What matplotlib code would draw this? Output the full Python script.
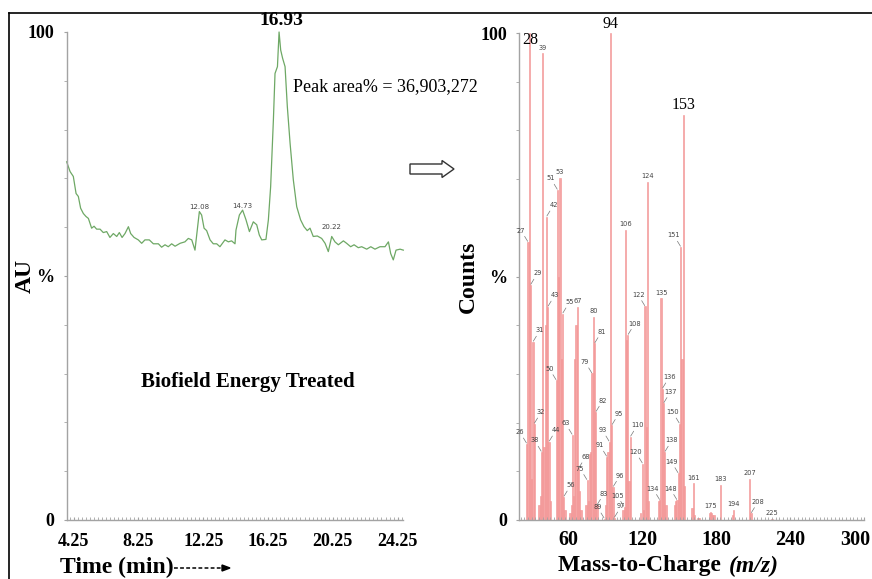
import matplotlib
matplotlib.use('Agg')
import matplotlib.pyplot as plt
import numpy as np
from matplotlib.ticker import MultipleLocator
from matplotlib.patches import FancyArrow
from matplotlib.lines import Line2D
from matplotlib.transforms import ScaledTranslation

# ---------------- data: chromatogram ----------------
ret_time = [3.82, 4.03, 4.23, 4.40, 4.54, 4.68, 4.85, 5.01, 5.16, 5.36, 5.51, 5.67, 5.88,
            6.08, 6.29, 6.49, 6.70, 6.91, 7.07, 7.24, 7.42, 7.63, 7.77, 7.98, 8.24, 8.45,
            8.65, 8.92, 9.17, 9.48, 9.68, 9.89, 10.09, 10.30, 10.51, 10.82, 11.12, 11.33,
            11.54, 11.74, 12.01, 12.15, 12.30, 12.46, 12.67, 12.87, 13.08, 13.28, 13.59,
            13.80, 14.00, 14.21, 14.27, 14.48, 14.68, 14.89, 15.10, 15.34, 15.55, 15.71,
            15.86, 16.12, 16.27, 16.41, 16.58, 16.68, 16.83, 16.93, 17.03, 17.15, 17.30,
            17.44, 17.61, 17.81, 18.02, 18.26, 18.47, 18.67, 18.84, 19.04, 19.29, 19.56,
            19.77, 19.97, 20.18, 20.38, 20.59, 20.90, 21.10, 21.35, 21.56, 21.82, 22.03,
            22.34, 22.59, 22.85, 23.16, 23.47, 23.68, 23.82, 23.98, 24.15, 24.40, 24.60]
au_pct = [73.4, 71.4, 70.4, 66.9, 66.3, 63.9, 62.8, 62.2, 61.8, 59.8, 60.2, 59.6, 59.6,
          58.9, 59.1, 57.9, 58.7, 58.1, 58.9, 57.9, 58.7, 60.1, 58.7, 57.9, 57.4, 56.7,
          57.4, 57.4, 56.6, 56.6, 55.9, 56.4, 56.0, 56.6, 56.1, 56.7, 57.0, 57.7,
          57.4, 55.3, 63.2, 62.5, 59.8, 59.3, 57.4, 56.6, 56.6, 56.0, 57.4,
          57.0, 57.2, 56.6, 59.4, 62.5, 63.5, 61.5, 59.1, 61.1, 60.5, 58.4,
          57.4, 57.5, 61.5, 68.3, 82.0, 91.5, 92.9, 100.0, 96.3, 94.6, 92.9,
          84.7, 77.2, 69.7, 64.2, 61.5, 60.1, 59.3, 59.8, 58.1, 58.2, 57.7,
          56.7, 55.0, 58.1, 57.0, 56.4, 57.2, 56.7, 56.0, 56.4, 55.8, 56.0,
          55.5, 56.0, 55.5, 56.0, 56.0, 57.0, 54.6, 53.3, 55.3, 55.5, 55.3]
minor_peak_labels = ['12.08', '14.73', '20.22']
main_peak_label = '16.93'
peak_area_text = 'Peak area% = 36,903,272'
x_ticks_time = [4.25, 8.25, 12.25, 16.25, 20.25, 24.25]

# ---------------- data: mass spectrum ----------------
mz = [26, 27, 28, 29, 30, 31, 32, 36, 37, 38, 39, 40, 41, 42, 43, 44, 45,
      50, 51, 52, 53, 54, 55, 56, 57, 61, 62, 63, 64, 65, 66, 67, 68, 69, 70,
      74, 75, 76, 77, 78, 79, 80, 81, 82, 83, 89, 90, 91, 92, 93, 94, 95, 96, 97,
      104, 105, 106, 107, 108, 109, 110, 118, 120, 121, 122, 123, 124, 125,
      133, 134, 135, 136, 137, 138, 139, 146, 147, 148, 149, 150, 151, 152, 153, 154,
      160, 161, 162, 165, 166, 174, 175, 176, 177, 178, 183, 193, 194, 207, 208, 225]
counts = [15.7, 57.1, 100, 48.3, 8.5, 36.6, 19.8, 3, 5, 14, 95.8, 15, 40, 62.3, 43.8, 16.1, 4,
          28.7, 67.8, 50, 70.2, 33, 42.4, 4.8, 2, 1.5, 3, 17.5, 5, 33, 40, 43.8, 10.6, 6, 2,
          3, 8.2, 4, 13.5, 14, 30.1, 41.7, 36.3, 22.2, 3.1, 0.3, 3, 13, 14, 16.1, 100, 19.5, 6.8, 0.5,
          2, 2.7, 59.5, 37, 38, 8, 17.1, 1.5, 11.6, 2, 43.9, 19, 69.5, 4,
          4, 4.1, 45.5, 27, 24, 14, 3, 3, 4, 4.1, 9.6, 19.8, 56.1, 33, 83.2, 7,
          2.5, 7.5, 1, 0.5, 0.5, 1.5, 1.7, 1.5, 1, 1, 7.2, 1, 2.1, 8.4, 1.4, 0.3]
big_labels = [28, 94, 153]
small_labels = [26, 27, 29, 31, 32, 38, 39, 42, 43, 44, 50, 51, 53, 55, 56, 63, 67, 68,
                75, 79, 80, 81, 82, 83, 89, 91, 93, 95, 96, 97, 105, 106, 108, 110, 120,
                122, 124, 134, 135, 136, 137, 138, 148, 149, 150, 151, 161, 175, 183, 194,
                207, 208, 225]
x_ticks_mz = [60, 120, 180, 240, 300]

# label side (style only)
left_side = {26, 27, 38, 50, 51, 63, 75, 79, 89, 91, 93, 105, 120, 122, 134, 148, 149, 150, 151}
right_side = {29, 31, 32, 42, 43, 44, 55, 56, 68, 81, 82, 83, 95, 96, 97, 108, 110, 136, 137, 138, 208}

serif = 'Liberation Serif'
W, H = 872, 579
fig = plt.figure(figsize=(W / 100, H / 100), dpi=100)

axis_col = '#a3a3a3'

# ---------------- left panel ----------------
ax1 = fig.add_axes([67 / W, 59 / H, 336 / W, 488 / H])
t = np.array(ret_time)
a = np.array(au_pct)
ax1.plot(t, a, color='#6ea865', lw=0.9, clip_on=False)
ax1.set_xlim(3.84, 24.58)
ax1.set_ylim(0, 100)
for s in ['top', 'right']:
    ax1.spines[s].set_visible(False)
for s in ['left', 'bottom']:
    ax1.spines[s].set_color(axis_col)
    ax1.spines[s].set_linewidth(1.0)
ax1.set_yticks([0, 50, 100])
ax1.set_yticklabels(['0', '%', '100'])
ax1.yaxis.set_minor_locator(MultipleLocator(10))
ax1.set_xticks(x_ticks_time)
ax1.set_xticklabels([f'{v:.2f}' for v in x_ticks_time])
ax1.xaxis.set_minor_locator(MultipleLocator(0.25))
ax1.tick_params(axis='y', which='both', length=2.5, color=axis_col, pad=7)
ax1.tick_params(axis='x', which='both', direction='in', length=2, color=axis_col, pad=9)
for lab in ax1.get_xticklabels() + ax1.get_yticklabels():
    lab.set_fontfamily(serif)
    lab.set_fontweight('bold')
    lab.set_fontsize(13)

ax1.text(-0.125, 0.5, 'AU', transform=ax1.transAxes, rotation=90, ha='center', va='center',
         fontfamily=serif, fontweight='bold', fontsize=17)

# main peak label
imax = int(np.argmax(a))
ax1.annotate(main_peak_label, xy=(t[imax], a[imax]), xytext=(2, 2), textcoords='offset points',
             ha='center', va='bottom', fontfamily=serif, fontweight='bold', fontsize=14,
             annotation_clip=False)
ax1.text(17.79, 88.9, peak_area_text, ha='left', va='center', fontfamily=serif, fontsize=13)
for lab in minor_peak_labels:
    tv = float(lab)
    mask = np.abs(t - tv) < 0.35
    idx = np.where(mask)[0]
    j = idx[np.argmax(a[idx])]
    dy = 5 if lab == '20.22' else 1
    ax1.annotate(lab, xy=(t[j], a[j]), xytext=(0, dy), textcoords='offset points',
                 ha='center', va='bottom', fontsize=5, color='#444444', fontfamily='DejaVu Sans')
ax1.text(15.0, 28.3, 'Biofield Energy Treated', ha='center', va='center',
         fontfamily=serif, fontweight='bold', fontsize=15)

# x label with dashed arrow
fig.text(60 / W, 1 - 567 / H, 'Time (min)', ha='left', va='center', fontfamily=serif,
         fontweight='bold', fontsize=17)
fig.add_artist(Line2D([174 / W, 224 / W], [1 - 568 / H, 1 - 568 / H], color='black', lw=1.1,
                      linestyle=(0, (2.5, 1.5))))
fig.add_artist(FancyArrow(222 / W, 1 - 568 / H, 8 / W, 0, width=0.0001, head_width=6 / H,
                          head_length=8 / W, length_includes_head=True, color='black',
                          transform=fig.transFigure))

# ---------------- right panel ----------------
ax2 = fig.add_axes([519.4 / W, 59 / H, 345 / W, 487 / H])
ax2.bar(mz, counts, width=1.0, color='#f5a5a5', edgecolor='#f29292', linewidth=0.4,
        align='center', clip_on=False)
ax2.set_xlim(20, 300)
ax2.set_ylim(0, 100)
for s in ['top', 'right']:
    ax2.spines[s].set_visible(False)
for s in ['left', 'bottom']:
    ax2.spines[s].set_color(axis_col)
    ax2.spines[s].set_linewidth(1.0)
ax2.set_yticks([0, 50, 100])
ax2.set_yticklabels(['0', '%', '100'])
ax2.yaxis.set_minor_locator(MultipleLocator(10))
ax2.set_xticks(x_ticks_mz)
ax2.set_xticklabels([str(v) for v in x_ticks_mz])
ax2.xaxis.set_minor_locator(MultipleLocator(3))
ax2.tick_params(axis='y', which='both', length=2.5, color=axis_col, pad=6)
ax2.tick_params(axis='x', which='both', direction='in', length=2, color=axis_col, pad=7)
for lab in ax2.get_yticklabels():
    lab.set_fontfamily(serif)
    lab.set_fontweight('bold')
    lab.set_fontsize(13)
xt_labels = ax2.get_xticklabels()
for lab in xt_labels:
    lab.set_fontfamily(serif)
    lab.set_fontweight('bold')
    lab.set_fontsize(14.5)
# keep the last label inside the picture edge
xt_labels[-1].set_transform(xt_labels[-1].get_transform() +
                            ScaledTranslation(-9 / 100, 0, fig.dpi_scale_trans))

ax2.text(-0.148, 0.5, 'Counts', transform=ax2.transAxes, rotation=90, ha='center', va='center',
         fontfamily=serif, fontweight='bold', fontsize=17)

# x label: "Mass-to-Charge " bold + "(m/z)" bold italic
xl1 = fig.text(0, 1 - 566 / H, 'Mass-to-Charge ', ha='left', va='center', fontfamily=serif,
               fontweight='bold', fontsize=17)
xl2 = fig.text(0, 1 - 566 / H, '(m/z)', ha='left', va='center', fontfamily=serif,
               fontweight='bold', fontstyle='italic', fontsize=17)
fig.canvas.draw()
r = fig.canvas.get_renderer()
w1 = xl1.get_window_extent(r).width
w2 = xl2.get_window_extent(r).width
start = 667 - (w1 + w2) / 2
xl1.set_x(start / W)
xl2.set_x((start + w1 + 2) / W)

height = dict(zip(mz, counts))
for m in big_labels:
    h = height[m]
    if m == 28:
        ax2.annotate(str(m), xy=(m, h), xytext=(1, -5), textcoords='offset points',
                     ha='center', va='center', fontfamily=serif, fontsize=11.5)
    else:
        ax2.annotate(str(m), xy=(m, h), xytext=(0, 1), textcoords='offset points',
                     ha='center', va='bottom', fontfamily=serif, fontsize=11.5,
                     annotation_clip=False)
for m in small_labels:
    h = height[m]
    if m in left_side:
        off, lp = (-5, 6), dict(arrowstyle='-', lw=0.5, color='#777777', shrinkA=0, shrinkB=0.5)
    elif m in right_side:
        off, lp = (5, 6), dict(arrowstyle='-', lw=0.5, color='#777777', shrinkA=0, shrinkB=0.5)
    else:
        off, lp = (0, 2), None
    ax2.annotate(str(m), xy=(m, h), xytext=off, textcoords='offset points', ha='center',
                 va='bottom', fontsize=4.8, color='#444444', fontfamily='DejaVu Sans',
                 arrowprops=lp)

# ---------------- frame and arrow ----------------
fig.add_artist(Line2D([9 / W, 1], [1 - 13 / H, 1 - 13 / H], color='black', lw=1.2))
fig.add_artist(Line2D([9 / W, 9 / W], [0, 1 - 13 / H], color='black', lw=1.2))
fig.add_artist(FancyArrow(410 / W, 1 - 169 / H, 44 / W, 0, width=10 / H, head_width=17 / H,
                          head_length=12 / W, length_includes_head=True, facecolor='white',
                          edgecolor='#333333', lw=1.0, transform=fig.transFigure))

fig.savefig('out.png', dpi=100)
